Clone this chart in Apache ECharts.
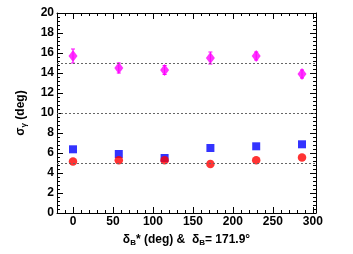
<!DOCTYPE html>
<html><head><meta charset="utf-8">
<script src="https://cdn.jsdelivr.net/npm/echarts@6/dist/echarts.min.js"></script>
<style>html,body{margin:0;padding:0;background:#fff}#c{width:353px;height:254px}</style>
</head><body><div id="c"></div>
<script>
const xValues = [0, 57.3, 114.6, 171.9, 229.2, 286.5];
const magentaY = [15.7, 14.5, 14.3, 15.5, 15.7, 13.9];
const magentaErr = [0.7, 0.5, 0.45, 0.6, 0.4, 0.4];
const blueY = [6.37, 5.9, 5.5, 6.5, 6.67, 6.87];
const redY = [5.14, 5.27, 5.27, 4.9, 5.27, 5.54];
const refLines = [5, 10, 15];
const xMajorTicks = [0, 50, 100, 150, 200, 250, 300];
const xMinorTicks = [-20,-10,0,10,20,30,40,50,60,70,80,90,100,110,120,130,140,150,160,170,180,190,200,210,220,230,240,250,260,270,280,290,300];

const FONT = 'Liberation Sans, Arial, sans-serif';
const chart = echarts.init(document.getElementById('c'));
const xMin = -20, xMax = 304;
function xAx(pos, showLabel, ticks, len, showLine, name) {
  return {
    type: 'value', position: pos, min: xMin, max: xMax, gridIndex: 0,
    axisLine: {show: showLine, onZero: false, lineStyle: {color: '#000', width: 1}},
    axisTick: {show: true, inside: true, length: len, customValues: ticks, lineStyle: {color: '#000', width: 1}},
    axisLabel: {show: showLabel, customValues: xMajorTicks, color: '#000', fontFamily: FONT, fontWeight: 'bold', fontSize: 12, margin: 3},
    splitLine: {show: false},
    name: name || '', nameLocation: 'middle', nameGap: 20,
    nameTextStyle: {color: '#000', fontFamily: FONT, fontWeight: 'bold', fontSize: 12,
      rich: {a: {fontFamily: FONT, fontWeight: 'bold', fontSize: 12, color: '#000'},
             s: {fontFamily: FONT, fontWeight: 'bold', fontSize: 8, color: '#000', verticalAlign: 'bottom', padding: [6,0,0,0]}}}
  };
}
function yAx(pos, showLabel, name) {
  return {
    type: 'value', position: pos, min: 0, max: 20, interval: 2, gridIndex: 0,
    axisLine: {show: true, onZero: false, lineStyle: {color: '#000', width: 1}},
    axisTick: {show: true, inside: true, length: 6, lineStyle: {color: '#000', width: 1}},
    minorTick: {show: true, splitNumber: 5, length: 3, lineStyle: {color: '#000', width: 1}},
    axisLabel: {show: showLabel, color: '#000', fontFamily: FONT, fontWeight: 'bold', fontSize: 12, margin: 3},
    splitLine: {show: false},
    name: name || '', nameLocation: 'middle', nameGap: 29, nameRotate: 90,
    nameTextStyle: {color: '#000', fontFamily: FONT, fontWeight: 'bold', fontSize: 12,
      rich: {a: {fontFamily: FONT, fontWeight: 'bold', fontSize: 12, color: '#000'},
             s: {fontFamily: FONT, fontSize: 8, color: '#000', padding: [6,0,0,0]}}}
  };
}
const errData = xValues.map((x, i) => [x, magentaY[i] - magentaErr[i], magentaY[i] + magentaErr[i]]);
chart.setOption({
  animation: false,
  grid: {left: 57, right: 37, top: 13, bottom: 41},
  xAxis: [
    xAx('bottom', true, xMajorTicks, 6, true, '{a|δ}{s|B}{a|* (deg) &  δ}{s|B}{a|= 171.9°}'),
    xAx('bottom', false, xMinorTicks, 3, false),
    xAx('top', false, xMajorTicks, 6, true),
    xAx('top', false, xMinorTicks, 3, false)
  ],
  yAxis: [
    yAx('left', true, '{a|σ}{s|γ}{a| (deg)}'),
    yAx('right', false)
  ],
  series: [
    {type: 'line', xAxisIndex: 0, yAxisIndex: 0, data: [], silent: true,
     markLine: {silent: true, symbol: 'none', label: {show: false},
       lineStyle: {color: '#666', type: [2, 2], width: 1},
       data: refLines.map(v => ({yAxis: v}))}},
    {type: 'custom', xAxisIndex: 0, yAxisIndex: 0, data: errData,
     renderItem: function (params, api) {
       const x = api.value(0);
       const lo = api.coord([x, api.value(1)]);
       const hi = api.coord([x, api.value(2)]);
       const st = {stroke: '#ff00ff', lineWidth: 1};
       return {type: 'group', children: [
         {type: 'line', shape: {x1: lo[0], y1: lo[1], x2: hi[0], y2: hi[1]}, style: st},
         {type: 'line', shape: {x1: lo[0]-2, y1: lo[1], x2: lo[0]+2, y2: lo[1]}, style: st},
         {type: 'line', shape: {x1: hi[0]-2, y1: hi[1], x2: hi[0]+2, y2: hi[1]}, style: st}
       ]};
     }},
    {type: 'scatter', xAxisIndex: 0, yAxisIndex: 0, symbol: 'diamond', symbolSize: [9, 12],
     itemStyle: {color: '#ff00ff'}, data: xValues.map((x, i) => [x, magentaY[i]])},
    {type: 'scatter', xAxisIndex: 0, yAxisIndex: 0, symbol: 'rect', symbolSize: 8,
     itemStyle: {color: '#0000ff'}, data: xValues.map((x, i) => [x, blueY[i]])},
    {type: 'scatter', xAxisIndex: 0, yAxisIndex: 0, symbol: 'circle', symbolSize: 8.5,
     itemStyle: {color: '#ff0000'}, data: xValues.map((x, i) => [x, redY[i]])}
  ]
});
</script></body></html>
